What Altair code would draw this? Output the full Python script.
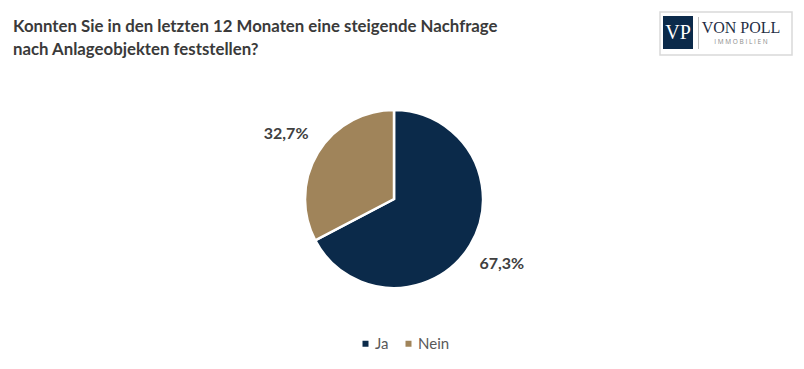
import altair as alt
import pandas as pd

categories = ["Ja", "Nein"]
values = [67.3, 32.7]
labels = ["67,3%", "32,7%"]
colors = ["#0b2a4a", "#a0845a"]

title_lines = ["Konnten Sie in den letzten 12 Monaten eine steigende Nachfrage",
               "nach Anlageobjekten feststellen?"]

df = pd.DataFrame({"cat": categories, "val": values, "label": labels,
                   "order": [0, 1]})

W, H = 788, 353
CX, CY = 394 - 8, 199 - 8
R = 89

base = alt.Chart(df).encode(
    theta=alt.Theta("val:Q", stack=True),
    order=alt.Order("order:Q"),
)

pie = base.mark_arc(radius=R, stroke="white", strokeWidth=2.5).encode(
    color=alt.Color("cat:N", scale=alt.Scale(domain=categories, range=colors),
                    sort=categories,
                    legend=alt.Legend(title=None, orient="none", direction="horizontal",
                                      legendX=350, legendY=328, symbolType="square",
                                      symbolSize=36, labelFontSize=15, labelColor="#595959",
                                      labelFont="Lato", columnPadding=12, labelOffset=2,
                                      symbolStrokeWidth=0)),
    x=alt.value(CX), y=alt.value(CY),
)

text = base.mark_text(radius=126, fontSize=16, fontWeight="bold", font="Lato",
                      color="#404040").encode(
    text="label:N", x=alt.value(CX), y=alt.value(CY),
)

def txt(s, x, y, **kw):
    return alt.Chart(pd.DataFrame({"t": [s]})).mark_text(**kw).encode(
        text="t:N", x=alt.value(x), y=alt.value(y))

title1 = txt(title_lines[0], 5, 19, align="left", baseline="middle", fontSize=16.8,
             fontWeight="bold", font="Lato", color="#3a3a3a")
title2 = txt(title_lines[1], 5, 42, align="left", baseline="middle", fontSize=16.8,
             fontWeight="bold", font="Lato", color="#3a3a3a")

def rect(x, y, x2, y2, **kw):
    return alt.Chart(pd.DataFrame({"a": [0]})).mark_rect(**kw).encode(
        x=alt.value(x), x2=alt.value(x2), y=alt.value(y), y2=alt.value(y2))

box = rect(652, 4, 784, 47, fill="white", stroke="#d9d9d9", strokeWidth=1.5)
navy = rect(655, 8, 685, 41, fill="#0b2a4a")
sep = rect(690, 9, 691, 41, fill="#bfbfbf")
vp = txt("VP", 670, 31, align="center", baseline="alphabetic", fontSize=20,
         font="Liberation Serif", color="white")
vonpoll = txt("VON POLL", 733, 25, align="center", baseline="alphabetic", fontSize=16,
              font="Liberation Serif", color="#1f2f45")
immo = txt("I M M O B I L I E N", 733, 36, align="center", baseline="alphabetic",
           fontSize=6.5, font="Open Sans", color="#8a8a8a")

chart = alt.layer(pie, text, title1, title2, box, navy, sep, vp, vonpoll, immo).properties(
    width=W, height=H, padding=0,
    autosize=alt.AutoSizeParams(type="fit", contains="padding"),
).configure_view(stroke=None)

chart.save("out.html", embed_options={"renderer": "svg", "actions": False})
